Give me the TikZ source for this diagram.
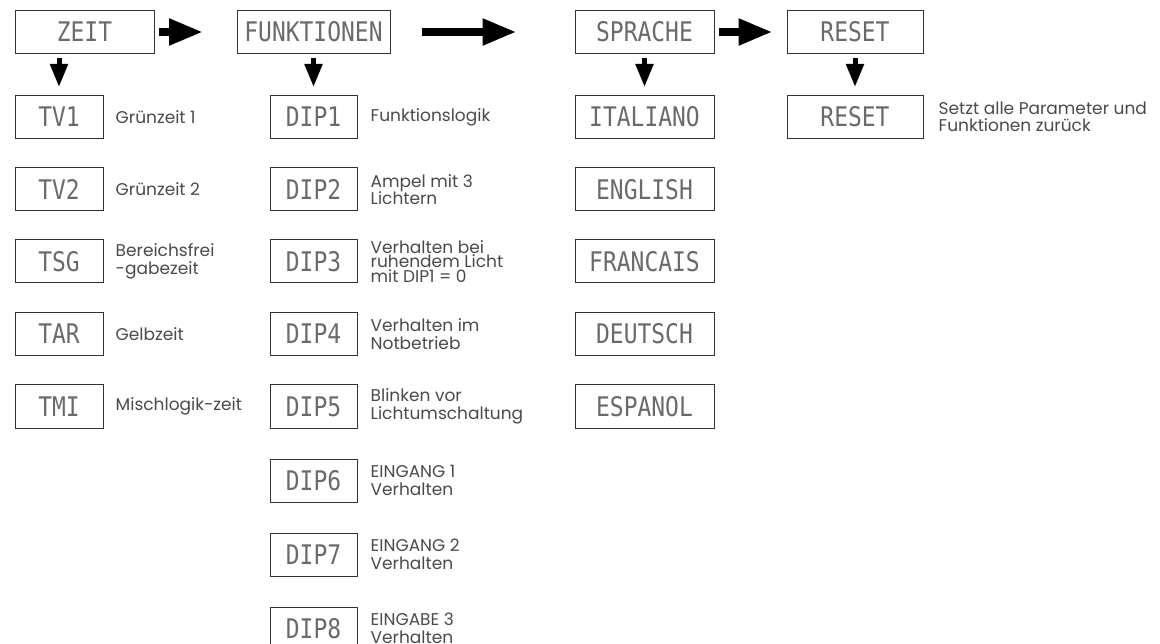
\documentclass[tikz,border=0pt]{standalone}
\usepackage{fontspec}
\setmainfont{Poppins}
\newfontfamily\lcdfont[FakeStretch=0.85]{DejaVu Sans Mono}
\usetikzlibrary{arrows.meta,positioning}
\definecolor{lcdgray}{HTML}{6A6A6A}
\definecolor{txtgray}{HTML}{4A4A4A}

\begin{document}
\begin{tikzpicture}[x=1pt, y=-1pt]
    \tikzstyle{display}=[draw=black!80, line width=1pt, minimum height=43pt, inner sep=0pt, text=lcdgray, font=\lcdfont\fontsize{27}{27}\selectfont]
    \tikzstyle{label}=[align=left, inner sep=0pt, text=txtgray, font=\fontsize{17}{17.5}\selectfont]
    \tikzstyle{tightlabel}=[label, font=\fontsize{17}{13}\selectfont]
    \tikzstyle{bigarrow}=[line width=8pt, -{Triangle[length=34pt, width=25pt]}]
    \tikzstyle{downarrow}=[line width=5pt, -{Triangle[length=23pt, width=17pt]}]

    \useasboundingbox (0,0) rectangle (1160,644);

    % draw menu
    \node [display, minimum width=139pt] (zeit) at (84.5,32) {ZEIT};
    \node [display, minimum width=153pt] (funktionen) at (313.5,32) {FUNKTIONEN};
    \node [display, minimum width=139pt] (sprache) at (644.5,32) {SPRACHE};
    \node [display, minimum width=136pt] (reset) at (855,32) {RESET};

    % draw zeit column
    \foreach \t/\y/\l/\s [count=\n] in {TV1/117/Grünzeit 1/label, TV2/189.5/Grünzeit 2/label, TSG/261.5/{Bereichsfrei\\-gabezeit}/label, TAR/334/Gelbzeit/label, TMI/406.5/Mischlogik-zeit/label}
    {
    \node [display, minimum width=88pt] (tv-\n) at (59,\y) {\t};
    \node [\s, right=12pt of tv-\n] (tvtext-\n) {\l};
    }

    % draw funktionen column
    \foreach \y/\l/\s [count=\n] in {117/Funktionslogik/label, 189.5/{Ampel mit 3\\Lichtern}/label, 261.5/{Verhalten bei\\ruhendem Licht\\mit DIP1 = 0}/tightlabel, 334/{Verhalten im\\Notbetrieb}/label, 406.5/{Blinken vor\\Lichtumschaltung}/label, 480.5/{EINGANG 1\\Verhalten}/label, 554.5/{EINGANG 2\\Verhalten}/label, 628.5/{EINGABE 3\\Verhalten}/label}
    {
    \node [display, minimum width=87pt] (dip-\n) at (313.5,\y) {DIP\n};
    \node [\s, right=13pt of dip-\n] (diptext-\n) {\l};
    }

    % draw sprache column
    \foreach \t/\y [count=\n] in {ITALIANO/117, ENGLISH/189.5, FRANCAIS/261.5, DEUTSCH/334, ESPANOL/406.5}
    \node [display, minimum width=139pt] (lang-\n) at (644.5,\y) {\t};

    % draw reset
    \node [display, minimum width=136pt] (reset2) at (855,117) {RESET};
    \node [label, right=15pt of reset2] (resettext) {Setzt alle Parameter und\\Funktionen zurück};

    % draw arrows
    \draw [bigarrow, shorten <=4pt, shorten >=33.5pt] (zeit) -- (funktionen);
    \draw [bigarrow, shorten <=31pt, shorten >=58pt] (funktionen) -- (sprache);
    \draw [bigarrow, shorten <=4pt, shorten >=14pt] (sprache) -- (reset);

    \draw [downarrow, shorten <=4pt, shorten >=8pt] (zeit.south -| tv-1.north) -- (tv-1.north);
    \draw [downarrow, shorten <=4pt, shorten >=8pt] (funktionen.south -| dip-1.north) -- (dip-1.north);
    \draw [downarrow, shorten <=4pt, shorten >=8pt] (sprache.south -| lang-1.north) -- (lang-1.north);
    \draw [downarrow, shorten <=4pt, shorten >=8pt] (reset) -- (reset2);
\end{tikzpicture}
\end{document}
